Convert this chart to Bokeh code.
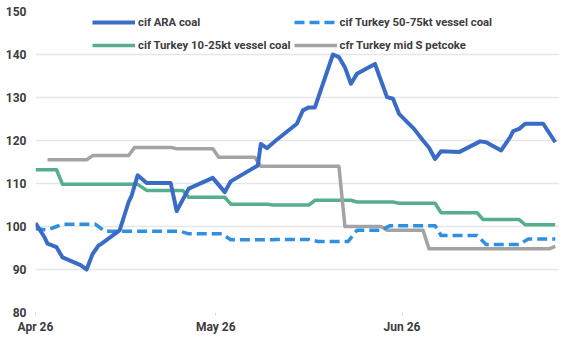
import pandas as pd
from bokeh.plotting import figure
from bokeh.models import Range1d, FixedTicker, DatetimeTickFormatter, Legend, LegendItem, ColumnDataSource
from bokeh.embed import file_html
from bokeh.resources import INLINE

# ---------------- data ----------------
tick_labels = ["2025-04-26", "2025-05-26", "2025-06-26"]

ara_dates = ["2025-04-26", "2025-04-27T12", "2025-04-28", "2025-04-29T12", "2025-04-30T12",
             "2025-05-03T12", "2025-05-04T12", "2025-05-05T12", "2025-05-06T12", "2025-05-07",
             "2025-05-10", "2025-05-11T12", "2025-05-12", "2025-05-13", "2025-05-14T12",
             "2025-05-18T12", "2025-05-19T12", "2025-05-21T12", "2025-05-25T12", "2025-05-27T12",
             "2025-05-28T12", "2025-06-02", "2025-06-02T12", "2025-06-03T12", "2025-06-05",
             "2025-06-08T12", "2025-06-09T12", "2025-06-10T12", "2025-06-11T12", "2025-06-14T12",
             "2025-06-15T12", "2025-06-16T12", "2025-06-17T12", "2025-06-18T12", "2025-06-21T12",
             "2025-06-23T12", "2025-06-24T12", "2025-06-25T12", "2025-06-28", "2025-06-29T12",
             "2025-06-30T12", "2025-07-01T12", "2025-07-02T12", "2025-07-05T12", "2025-07-09",
             "2025-07-10", "2025-07-12T12", "2025-07-14", "2025-07-14T12", "2025-07-15T12",
             "2025-07-16T12", "2025-07-19T12", "2025-07-21T12"]
ara_values = [100.8, 97.5, 96.0, 95.2, 92.8,
              91.0, 90.0, 93.6, 95.6, 96.0,
              99.1, 105.7, 107.2, 111.9, 110.1,
              110.1, 103.6, 108.8, 111.3, 108.0,
              110.5, 114.2, 119.2, 118.2, 120.0,
              123.9, 127.0, 127.7, 127.7, 140.0,
              139.4, 137.0, 133.2, 135.5, 137.8,
              130.1, 129.7, 126.2, 122.7, 120.0,
              118.3, 115.7, 117.5, 117.3, 119.8,
              119.6, 117.7, 120.8, 122.2, 122.7,
              123.9, 123.9, 119.6]

big_dates = ["2025-04-26", "2025-04-28", "2025-04-29T12", "2025-04-30T12", "2025-05-06",
             "2025-05-07T12", "2025-05-20", "2025-05-21T12", "2025-05-27", "2025-05-28T12",
             "2025-06-04T12", "2025-06-05", "2025-06-10T12", "2025-06-12", "2025-06-17",
             "2025-06-18T12", "2025-06-22T12", "2025-06-24", "2025-07-01T12", "2025-07-02T12",
             "2025-07-08T12", "2025-07-10", "2025-07-15T12", "2025-07-17", "2025-07-21T12"]
big_values = [99.5, 99.2, 100.0, 100.5, 100.5,
              98.9, 98.9, 98.3, 98.3, 96.9,
              96.9, 97.0, 97.0, 96.5, 96.5,
              99.1, 99.1, 100.2, 100.2, 97.9,
              97.9, 95.8, 95.8, 97.1, 97.1]

small_dates = ["2025-04-26", "2025-04-29T12", "2025-04-30T12", "2025-05-13", "2025-05-14T12",
               "2025-05-20T12", "2025-05-21T12", "2025-05-27T12", "2025-05-28T12", "2025-06-03T12",
               "2025-06-04T12", "2025-06-10T12", "2025-06-11T12", "2025-06-17T12", "2025-06-18T12",
               "2025-06-24T12", "2025-06-25T12", "2025-07-01T12", "2025-07-02T12", "2025-07-08T12",
               "2025-07-09T12", "2025-07-15T12", "2025-07-16T12", "2025-07-21T12"]
small_values = [113.2, 113.2, 109.8, 109.8, 108.4,
                108.4, 106.8, 106.8, 105.2, 105.2,
                105.0, 105.0, 106.1, 106.1, 105.7,
                105.7, 105.4, 105.4, 103.2, 103.2,
                101.6, 101.6, 100.4, 100.4]

pet_dates = ["2025-04-28", "2025-05-04T12", "2025-05-05T12", "2025-05-11T12", "2025-05-12T12",
             "2025-05-18T12", "2025-05-19T12", "2025-05-25T12", "2025-05-26T12", "2025-06-01T12",
             "2025-06-02T12", "2025-06-15T12", "2025-06-16T12", "2025-06-22T12", "2025-06-23T12",
             "2025-06-29T12", "2025-06-30T12", "2025-07-20T12", "2025-07-21T12"]
pet_values = [115.5, 115.5, 116.5, 116.5, 118.4,
              118.4, 118.1, 118.1, 116.1, 116.1,
              114.0, 114.0, 100.0, 100.0, 99.1,
              99.1, 94.8, 94.8, 95.4]

series_names = ["cif ARA coal", "cif Turkey 50-75kt vessel coal",
                "cif Turkey 10-25kt vessel coal", "cfr Turkey mid S petcoke"]

# ---------------- figure ----------------
p = figure(width=581, height=349, x_axis_type="datetime", output_backend="svg",
           toolbar_location=None, min_border_left=35, min_border_right=22,
           min_border_top=11, min_border_bottom=37,
           x_range=Range1d(pd.Timestamp("2025-04-26"), pd.Timestamp("2025-07-22T05")),
           y_range=Range1d(80, 150))
p.outline_line_color = None
p.background_fill_color = "white"
p.border_fill_color = "white"

p.xgrid.grid_line_color = None
p.ygrid.grid_line_color = "#e6e6e6"
p.ygrid.grid_line_width = 1.5
p.yaxis.ticker = FixedTicker(ticks=[80, 90, 100, 110, 120, 130, 140, 150])
p.xaxis.ticker = FixedTicker(ticks=[pd.Timestamp(t).value // 10**6 for t in tick_labels])
p.xaxis.formatter = DatetimeTickFormatter(days="%b %d", months="%b %d")

for ax in (p.xaxis[0], p.yaxis[0]):
    ax.axis_line_color = None
    ax.minor_tick_line_color = None
    ax.minor_tick_out = 0
    ax.minor_tick_in = 0
    ax.major_label_text_font = "Roboto"
    ax.major_label_text_font_size = "12px"
    ax.major_label_text_font_style = "bold"
    ax.major_label_text_color = "#3c3c3c"
p.yaxis.major_tick_line_color = None
p.yaxis.major_tick_out = 0
p.yaxis.major_tick_in = 0
p.yaxis.major_label_standoff = 9
p.xaxis.major_tick_line_color = "#dcdcdc"
p.xaxis.major_tick_out = 3
p.xaxis.major_tick_in = 0
p.xaxis.major_label_standoff = 4

def src(d, v):
    return ColumnDataSource(dict(x=pd.to_datetime(d, format="ISO8601"), y=v))

r_small = p.line("x", "y", source=src(small_dates, small_values), line_color="#57ae8d",
                 line_width=3.5, line_join="round")
r_pet = p.line("x", "y", source=src(pet_dates, pet_values), line_color="#a3a3a3",
               line_width=3.5, line_join="round")
r_big = p.line("x", "y", source=src(big_dates, big_values), line_color="#2f8fe3",
               line_width=3.5, line_dash="10 5", line_join="round")
r_ara = p.line("x", "y", source=src(ara_dates, ara_values), line_color="#3a6cc6",
               line_width=4, line_join="round")

legend = Legend(items=[LegendItem(label=series_names[0], renderers=[r_ara]),
                       LegendItem(label=series_names[1], renderers=[r_big]),
                       LegendItem(label=series_names[2], renderers=[r_small]),
                       LegendItem(label=series_names[3], renderers=[r_pet])],
                orientation="horizontal", ncols=2, location=(57, 257),
                background_fill_alpha=0, border_line_color=None,
                padding=0, margin=0, spacing=3, glyph_width=43, glyph_height=20,
                label_standoff=3, label_text_font="Roboto", label_text_font_size="11.3px",
                label_text_font_style="bold", label_text_color="#3c3c3c")
p.add_layout(legend, "center")

open("out.html", "w").write(file_html(p, INLINE))
